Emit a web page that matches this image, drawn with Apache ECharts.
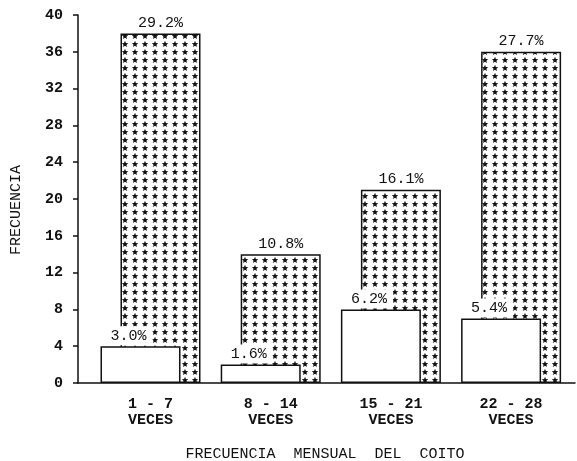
<!DOCTYPE html>
<html>
<head>
<meta charset="utf-8">
<script src="https://cdn.jsdelivr.net/npm/echarts@6/dist/echarts.min.js"></script>
<style>
  html, body { margin: 0; padding: 0; background: #fff; }
  #chart { width: 577px; height: 461px; }
</style>
</head>
<body>
<div id="chart"></div>
<script>
// Monthly coital frequency: two groups per frequency band
const categories = ['1 - 7\nVECES', '8 - 14\nVECES', '15 - 21\nVECES', '22 - 28\nVECES'];
const plainValues = [4, 2, 8, 7];
const plainLabels = ['3.0%', '1.6%', '6.2%', '5.4%'];
const starValues = [38, 14, 21, 36];
const starLabels = ['29.2%', '10.8%', '16.1%', '27.7%'];
const yTicks = { min: 0, max: 40, interval: 4 };

const FONT = '"Liberation Mono", "DejaVu Sans Mono", monospace';

// Small tile with a black five-point star, repeated as the bar fill
function starTile() {
  const c = document.createElement('canvas');
  c.width = 10; c.height = 8;
  const g = c.getContext('2d');
  g.fillStyle = '#fff';
  g.fillRect(0, 0, 10, 8);
  g.fillStyle = '#111';
  g.beginPath();
  const cx = 5, cy = 4.2, R = 3.4, r = 1.5;
  for (let i = 0; i < 10; i++) {
    const a = -Math.PI / 2 + i * Math.PI / 5;
    const rad = i % 2 === 0 ? R : r;
    const x = cx + rad * Math.cos(a), y = cy + rad * Math.sin(a);
    if (i === 0) g.moveTo(x, y); else g.lineTo(x, y);
  }
  g.closePath();
  g.fill();
  return c;
}

const chart = echarts.init(document.getElementById('chart'));

const yBase = {
  type: 'value', gridIndex: 0,
  min: yTicks.min, max: yTicks.max, interval: yTicks.interval,
  offset: 12.4,
  splitLine: { show: false },
  axisLine: { show: true, lineStyle: { color: '#111', width: 1.5 } }
};

chart.setOption({
  animation: false,
  backgroundColor: '#fff',
  title: {
    text: 'FRECUENCIA  MENSUAL  DEL  COITO',
    left: 320, top: 442, textAlign: 'center',
    textStyle: { fontFamily: FONT, fontSize: 15, fontWeight: 'normal', color: '#111' }
  },
  grid: [
    { left: 90.4, right: 5.8, top: 15, bottom: 78 },
    { left: 78, right: 2, top: 15, bottom: 78 }
  ],
  xAxis: [
    {
      type: 'category', gridIndex: 0, data: categories,
      axisLine: { show: false },
      axisTick: { show: false },
      axisLabel: {
        margin: 13, lineHeight: 16, color: '#111',
        fontFamily: FONT, fontSize: 15, fontWeight: 'bold'
      }
    },
    {
      type: 'value', gridIndex: 1, min: 0, max: 1,
      axisLine: { show: true, lineStyle: { color: '#111', width: 1.5 } },
      axisTick: { show: false }, axisLabel: { show: false }, splitLine: { show: false }
    }
  ],
  yAxis: [
    Object.assign({}, yBase, {
      name: 'FRECUENCIA', nameLocation: 'middle', nameGap: 54, nameRotate: 90,
      nameTextStyle: { fontFamily: FONT, fontSize: 15, color: '#111', padding: [0, 22, 0, 0] },
      axisTick: { show: true, inside: false, length: 5, lineStyle: { color: '#111', width: 1.5 } },
      axisLabel: { margin: 15, color: '#111', fontFamily: FONT, fontSize: 15, fontWeight: 'bold' }
    }),
    Object.assign({}, yBase, {
      axisTick: { show: true, inside: true, length: 5, lineStyle: { color: '#111', width: 1.5 } },
      axisLabel: { show: false }
    }),
    { type: 'value', gridIndex: 1, show: false, min: 0, max: 1 }
  ],
  series: [
    {
      type: 'bar', xAxisIndex: 0, yAxisIndex: 0, z: 3,
      data: plainValues,
      barWidth: 80, barGap: '-75%',
      itemStyle: { color: '#fff', borderColor: '#111', borderWidth: 1.5 },
      label: {
        show: true, position: 'top', distance: 1, offset: [-12, 0],
        fontFamily: FONT, fontSize: 15, color: '#111',
        backgroundColor: '#fff', padding: [2, 6, 2, 6],
        formatter: p => plainLabels[p.dataIndex]
      }
    },
    {
      type: 'bar', xAxisIndex: 0, yAxisIndex: 0, z: 2,
      data: starValues,
      barWidth: 80,
      itemStyle: {
        color: { image: starTile(), repeat: 'repeat' },
        borderColor: '#111', borderWidth: 1.5
      },
      label: {
        show: true, position: 'top', distance: 3,
        fontFamily: FONT, fontSize: 15, color: '#111',
        formatter: p => starLabels[p.dataIndex]
      }
    }
  ]
});
</script>
</body>
</html>
